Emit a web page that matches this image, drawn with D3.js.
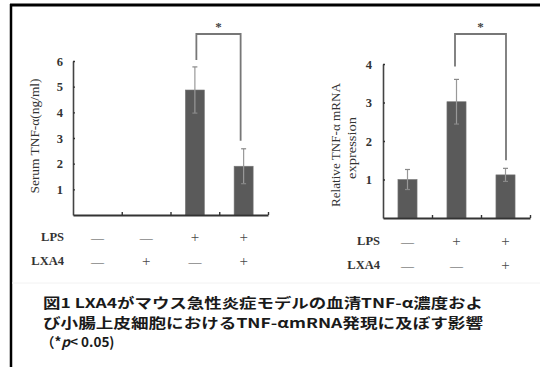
<!DOCTYPE html>
<html><head><meta charset="utf-8">
<script src="https://cdn.jsdelivr.net/npm/d3@7"></script>
<style>body{margin:0;background:#fff}svg{display:block}</style>
</head><body>
<svg id="c" width="540" height="367"></svg>
<script>
// ---- data ----
const leftGroups = ["g1","g2","g3","g4"];
const leftValues = [0, 0, 4.87, 1.9];
const leftErrors = [0, 0, 0.9, 0.68];
const leftLPS = ["—","—","+","+"];
const leftLXA4 = ["—","+","—","+"];
const leftTicks = [1,2,3,4,5,6];

const rightGroups = ["h1","h2","h3"];
const rightValues = [1.0, 3.02, 1.12];
const rightErrors = [0.26, 0.58, 0.17];
const rightLPS = ["—","+","+"];
const rightLXA4 = ["—","—","+"];
const rightTicks = [1,2,3,4];

const captionLines = [
  "図1 LXA4がマウス急性炎症モデルの血清TNF-α濃度およ",
  "び小腸上皮細胞におけるTNF-αmRNA発現に及ぼす影響"
];

const svg = d3.select("#c");
const serif = "'Liberation Serif','DejaVu Serif',serif";
const ink = "#333";

// frame
svg.append("line").attr("x1",10).attr("x2",540).attr("y1",5).attr("y2",5).attr("stroke","#000").attr("stroke-width",3);
svg.append("line").attr("x1",11).attr("x2",11).attr("y1",4).attr("y2",367).attr("stroke","#000").attr("stroke-width",2.5);
svg.append("line").attr("x1",12).attr("x2",540).attr("y1",283).attr("y2",283).attr("stroke","#f2f2f2").attr("stroke-width",1);

function panel(o){
  const g = svg.append("g");
  const x = d3.scaleBand().domain(o.groups).range([o.x0,o.x1]).padding(0);
  const y = d3.scaleLinear().domain([0,o.ymax]).range([o.y0,o.y1]);
  const bw = x.bandwidth()*0.39;
  const cx = d => x(d)+x.bandwidth()/2;

  // bars
  g.selectAll("rect.bar").data(o.groups).join("rect")
    .attr("x", d=>cx(d)-bw/2).attr("width", bw)
    .attr("y", (d,i)=>y(o.values[i])).attr("height",(d,i)=>y(0)-y(o.values[i]))
    .attr("fill","#5a5a5a").attr("stroke","#777").attr("stroke-width",0.6);

  // error bars
  o.groups.forEach((d,i)=>{
    if(!o.errors[i]) return;
    const xc = cx(d), hi = y(o.values[i]+o.errors[i]), lo = y(o.values[i]-o.errors[i]);
    g.append("line").attr("x1",xc).attr("x2",xc).attr("y1",hi).attr("y2",lo).attr("stroke","#999").attr("stroke-width",1.2);
    [hi,lo].forEach(yy=>g.append("line").attr("x1",xc-2.5).attr("x2",xc+2.5).attr("y1",yy).attr("y2",yy).attr("stroke","#888").attr("stroke-width",1.2));
  });

  // y axis
  const ya = g.append("g").attr("transform",`translate(${o.x0},0)`)
    .call(d3.axisLeft(y).tickValues(o.ticks).tickSizeInner(-2).tickSizeOuter(0).tickPadding(o.tickPad).tickFormat(d3.format("d")));
  ya.select(".domain").attr("stroke","#444").attr("stroke-width",1.6);
  ya.selectAll(".tick line").attr("stroke","#333").attr("stroke-width",1.4);
  ya.selectAll(".tick text").attr("font-family",serif).attr("font-size",12.5).attr("fill",ink).attr("font-weight","bold");

  // x axis
  const xl = d3.scaleLinear().domain([0,o.groups.length]).range([o.x0,o.x1]);
  const xa = g.append("g").attr("transform",`translate(0,${o.y0})`)
    .call(d3.axisBottom(xl).tickValues(d3.range(1,o.groups.length+1)).tickSizeInner(-3).tickSizeOuter(0).tickFormat(""));
  xa.select(".domain").attr("stroke","#333").attr("stroke-width",2);
  xa.selectAll(".tick line").attr("stroke","#333").attr("stroke-width",1.4);

  // y label
  o.ylabel.forEach(l=>{
    g.append("text").attr("transform",`translate(${l.x},${l.y}) rotate(-90)`)
      .attr("text-anchor","middle").attr("dominant-baseline","central")
      .attr("font-family",serif).attr("font-size",l.size).attr("fill",ink)
      .attr("textLength",l.len).attr("lengthAdjust","spacingAndGlyphs").text(l.t);
  });

  // condition rows
  [[ "LPS", o.lps, o.rowY[0]], ["LXA4", o.lxa4, o.rowY[1]]].forEach(([lab,arr,yy])=>{
    g.append("text").attr("x",o.labX).attr("y",yy).attr("text-anchor","end").attr("dominant-baseline","central")
      .attr("font-family",serif).attr("font-size",12.5).attr("font-weight","bold").attr("fill",ink).text(lab);
    g.selectAll(null).data(arr).join("text")
      .attr("x",(d,i)=>cx(o.groups[i])).attr("y",yy).attr("text-anchor","middle").attr("dominant-baseline","central")
      .attr("font-family",serif).attr("font-size",d=>d==="+"?15:13).attr("fill","#4a4a4a").text(d=>d);
  });

  // significance bracket
  const [a,b] = o.bracket;
  const xa1 = cx(o.groups[a]) + o.bOff[0], xb1 = cx(o.groups[b]) + o.bOff[1];
  const ya1 = y(o.values[a]+o.errors[a]) - o.gap[0];
  const yb1 = y(o.values[b]+o.errors[b]) - o.gap[1];
  g.append("path").attr("d",`M${xa1},${ya1}V${o.bY}H${xb1}V${yb1}`)
    .attr("fill","none").attr("stroke","#777").attr("stroke-width",1.8);
  g.append("text").attr("x",(xa1+xb1)/2).attr("y",o.bY-8).attr("text-anchor","middle").attr("dominant-baseline","central")
    .attr("font-family",serif).attr("font-size",13).attr("font-weight","bold").attr("fill","#444").text("*");
}

panel({groups:leftGroups, values:leftValues, errors:leftErrors, ticks:leftTicks, ymax:6,
  x0:73, x1:268, y0:215, y1:61, tickPad:10,
  ylabel:[{t:"Serum TNF-α(ng/ml)", x:35, y:136, size:12.5, len:115}],
  lps:leftLPS, lxa4:leftLXA4, rowY:[237,261], labX:64,
  bracket:[2,3], bOff:[1.5,-3], gap:[7,8], bY:34});

panel({groups:rightGroups, values:rightValues, errors:rightErrors, ticks:rightTicks, ymax:4,
  x0:383, x1:530, y0:218, y1:64, tickPad:11,
  ylabel:[{t:"Relative TNF-α mRNA", x:335, y:145, size:13, len:124},
          {t:"expression", x:351, y:148, size:13, len:62}],
  lps:rightLPS, lxa4:rightLXA4, rowY:[241,265], labX:380,
  bracket:[1,2], bOff:[-1.5,0.5], gap:[13,8], bY:34});

// caption: three lines
const capFont = "'Noto Sans CJK JP','Noto Sans CJK SC',sans-serif";
captionLines.forEach((t,i)=>{
  svg.append("text").attr("font-family",capFont).attr("font-weight","bold").attr("fill","#1a1a1a")
    .attr("font-size",13.5).attr("x",43).attr("y",308+i*19.6)
    .attr("textLength",440).attr("lengthAdjust","spacingAndGlyphs").text(t);
});
const l3 = svg.append("text").attr("font-family",capFont).attr("font-weight","bold").attr("fill","#1a1a1a")
  .attr("font-size",13.5).attr("x",41).attr("y",347.2);
l3.append("tspan").text("（*");
l3.append("tspan").attr("font-style","italic").text("p");
l3.append("tspan").text("< 0.05)");
</script>
</body></html>
